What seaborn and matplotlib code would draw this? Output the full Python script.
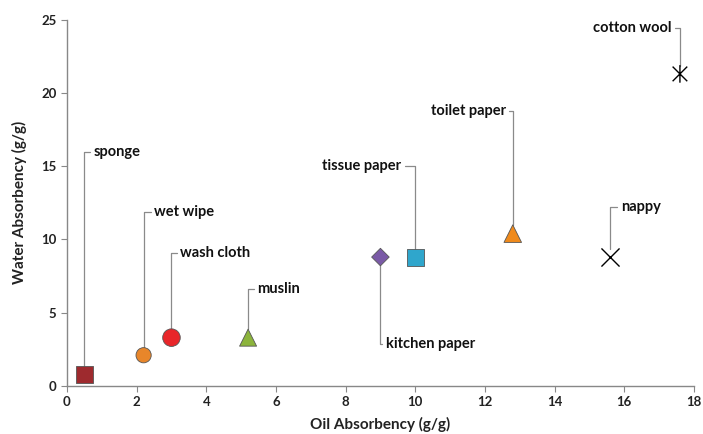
import matplotlib
matplotlib.use("Agg")
import matplotlib.pyplot as plt
from matplotlib.path import Path
import seaborn as sns
import pandas as pd

# ---- data ----
names = ["sponge", "wet wipe", "wash cloth", "muslin", "kitchen paper",
         "tissue paper", "toilet paper", "nappy", "cotton wool"]
oil = [0.5, 2.2, 3.0, 5.2, 9.0, 10.0, 12.8, 15.6, 17.6]
water = [0.8, 2.1, 3.3, 3.3, 8.8, 8.8, 10.4, 8.8, 21.3]
label_x = [0.75, 2.5, 3.25, 5.45, 9.15, 9.6, 12.6, 15.9, 17.35]
label_y = [16.0, 11.9, 9.1, 6.6, 2.9, 15.0, 18.75, 12.2, 24.4]
label_ha = ["left", "left", "left", "left", "left", "right", "right", "left", "right"]
colors = ["#9e2a2e", "#e8862a", "#e8262a", "#8cb43c", "#7a5aa6",
          "#2fa6cc", "#ef8a1c", "#000000", "#000000"]

# Excel-like star marker: an "x" with a vertical stroke through it
star = Path([(-1, -1), (1, 1), (-1, 1), (1, -1), (0, -1.2), (0, 1.2)],
            [Path.MOVETO, Path.LINETO, Path.MOVETO, Path.LINETO, Path.MOVETO, Path.LINETO])
markers = ["s", "o", "o", "^", "D", "s", "^", "x", star]
sizes = [150, 120, 160, 150, 80, 150, 160, 160, 160]

df = pd.DataFrame({"name": names, "oil": oil, "water": water, "size": sizes})
palette = dict(zip(names, colors))
mk = dict(zip(names, markers))
filled = names[:7]

sns.set_style("white")
plt.rcParams["font.family"] = ["Lato", "DejaVu Sans"]

fig = plt.figure(figsize=(7.03, 4.34), dpi=100)
ax = fig.add_axes([0.0953, 0.1106, 0.8917, 0.844])

dff = df[df["name"].isin(filled)]
sns.scatterplot(data=dff, x="oil", y="water", hue="name", style="name",
                palette={k: palette[k] for k in filled},
                markers={k: mk[k] for k in filled},
                size="size", sizes=(min(sizes), max(sizes)), size_norm=(min(sizes), max(sizes)),
                edgecolor="#555555", linewidth=0.6, legend=False, ax=ax, zorder=4)
dfn = df[df["name"] == "nappy"]
sns.scatterplot(data=dfn, x="oil", y="water", color=palette["nappy"], marker="x",
                s=170, linewidth=1.0, legend=False, ax=ax, zorder=4)
dfc = df[df["name"] == "cotton wool"]
sns.scatterplot(data=dfc, x="oil", y="water", marker=star, facecolor="none",
                edgecolor=palette["cotton wool"], s=160, linewidth=1.0,
                legend=False, ax=ax, zorder=4)

for n, x, y, tx, ty, ha in zip(names, oil, water, label_x, label_y, label_ha):
    ax.annotate(n, xy=(x, y), xytext=(tx, ty), ha=ha, va="center",
                fontsize=10.5, fontweight="bold", color="#111111",
                arrowprops=dict(arrowstyle="-", color="#8a8a8a", lw=0.9,
                                shrinkA=0, shrinkB=6,
                                connectionstyle="angle,angleA=0,angleB=90,rad=0"),
                zorder=3)

ax.set_xlim(0, 18)
ax.set_ylim(0, 25)
ax.set_xticks(range(0, 19, 2))
ax.set_yticks(range(0, 26, 5))
ax.tick_params(axis="both", direction="out", length=4, width=0.8, color="#888888",
               labelsize=9.5, labelcolor="#222222", bottom=True, left=True)
for lab in ax.get_xticklabels() + ax.get_yticklabels():
    lab.set_fontweight("bold")
for s in ["top", "right"]:
    ax.spines[s].set_visible(False)
for s in ["left", "bottom"]:
    ax.spines[s].set_color("#888888")
    ax.spines[s].set_linewidth(1.0)
ax.set_xlabel("Oil Absorbency (g/g)", fontsize=11, fontweight="bold", color="#222222", labelpad=6)
ax.set_ylabel("Water Absorbency (g/g)", fontsize=11, fontweight="bold", color="#222222", labelpad=10)

fig.savefig("out.png", dpi=100)
